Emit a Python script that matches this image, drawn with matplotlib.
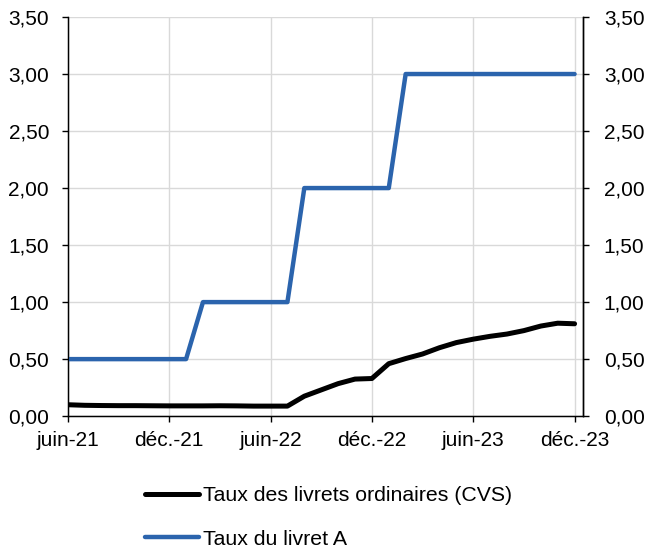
import matplotlib.pyplot as plt
from matplotlib.ticker import FuncFormatter

plt.rcParams['font.family'] = ['Liberation Sans', 'DejaVu Sans']
plt.rcParams['font.size'] = 15

# monthly observations, juin-21 .. déc.-23
months = list(range(31))
tick_pos = [0, 6, 12, 18, 24, 30]
tick_labels = ["juin-21", "déc.-21", "juin-22", "déc.-22", "juin-23", "déc.-23"]

livrets_ordinaires = [0.10, 0.095, 0.093, 0.092, 0.092, 0.091, 0.09, 0.09, 0.09, 0.091,
                      0.09, 0.088, 0.088, 0.088, 0.175, 0.23, 0.285, 0.325, 0.33,
                      0.46, 0.505, 0.545, 0.60, 0.645, 0.675, 0.70, 0.72, 0.75,
                      0.79, 0.815, 0.81]
livret_a = [0.5] * 8 + [1.0] * 6 + [2.0] * 6 + [3.0] * 11

fig = plt.figure(figsize=(6.46, 5.49), dpi=100)
ax = fig.add_axes([0.105, 0.242, 0.7975, 0.727])

ax.plot(months, livrets_ordinaires, color="black", lw=3.6,
        solid_capstyle="round", label="Taux des livrets ordinaires (CVS)", zorder=3)
ax.plot(months, livret_a, color="#2b64ad", lw=3.2,
        solid_capstyle="round", label="Taux du livret A", zorder=3)

ax.set_xlim(0, 30.5)
ax.set_ylim(0, 3.5)
ticks_y = [0, 0.5, 1, 1.5, 2, 2.5, 3, 3.5]
fmt = FuncFormatter(lambda v, p: f"{v:.2f}".replace(".", ","))
ax.set_yticks(ticks_y)
ax.yaxis.set_major_formatter(fmt)
ax.set_xticks(tick_pos)
ax.set_xticklabels(tick_labels)
ax.grid(True, color="#d9d9d9", lw=1)
ax.set_axisbelow(True)
ax.spines["top"].set_visible(False)
for s in ["left", "bottom", "right"]:
    ax.spines[s].set_linewidth(1)
ax.tick_params(direction="out", length=4.5, width=1, colors="black")
ax.tick_params(axis="y", pad=9)
ax.tick_params(axis="x", pad=6.5)

ax2 = ax.twinx()
ax2.set_ylim(0, 3.5)
ax2.set_yticks(ticks_y)
ax2.yaxis.set_major_formatter(fmt)
ax2.spines["top"].set_visible(False)
ax2.spines["right"].set_linewidth(1)
ax2.tick_params(direction="out", length=4.5, width=1, pad=10.5)

fig.legend(loc="center left", bbox_to_anchor=(0.208, 0.057), frameon=False,
           borderpad=0, handlelength=2.55, handletextpad=0.2, labelspacing=1.15,
           prop={"size": 15.3})

fig.savefig("out.png", dpi=100)
